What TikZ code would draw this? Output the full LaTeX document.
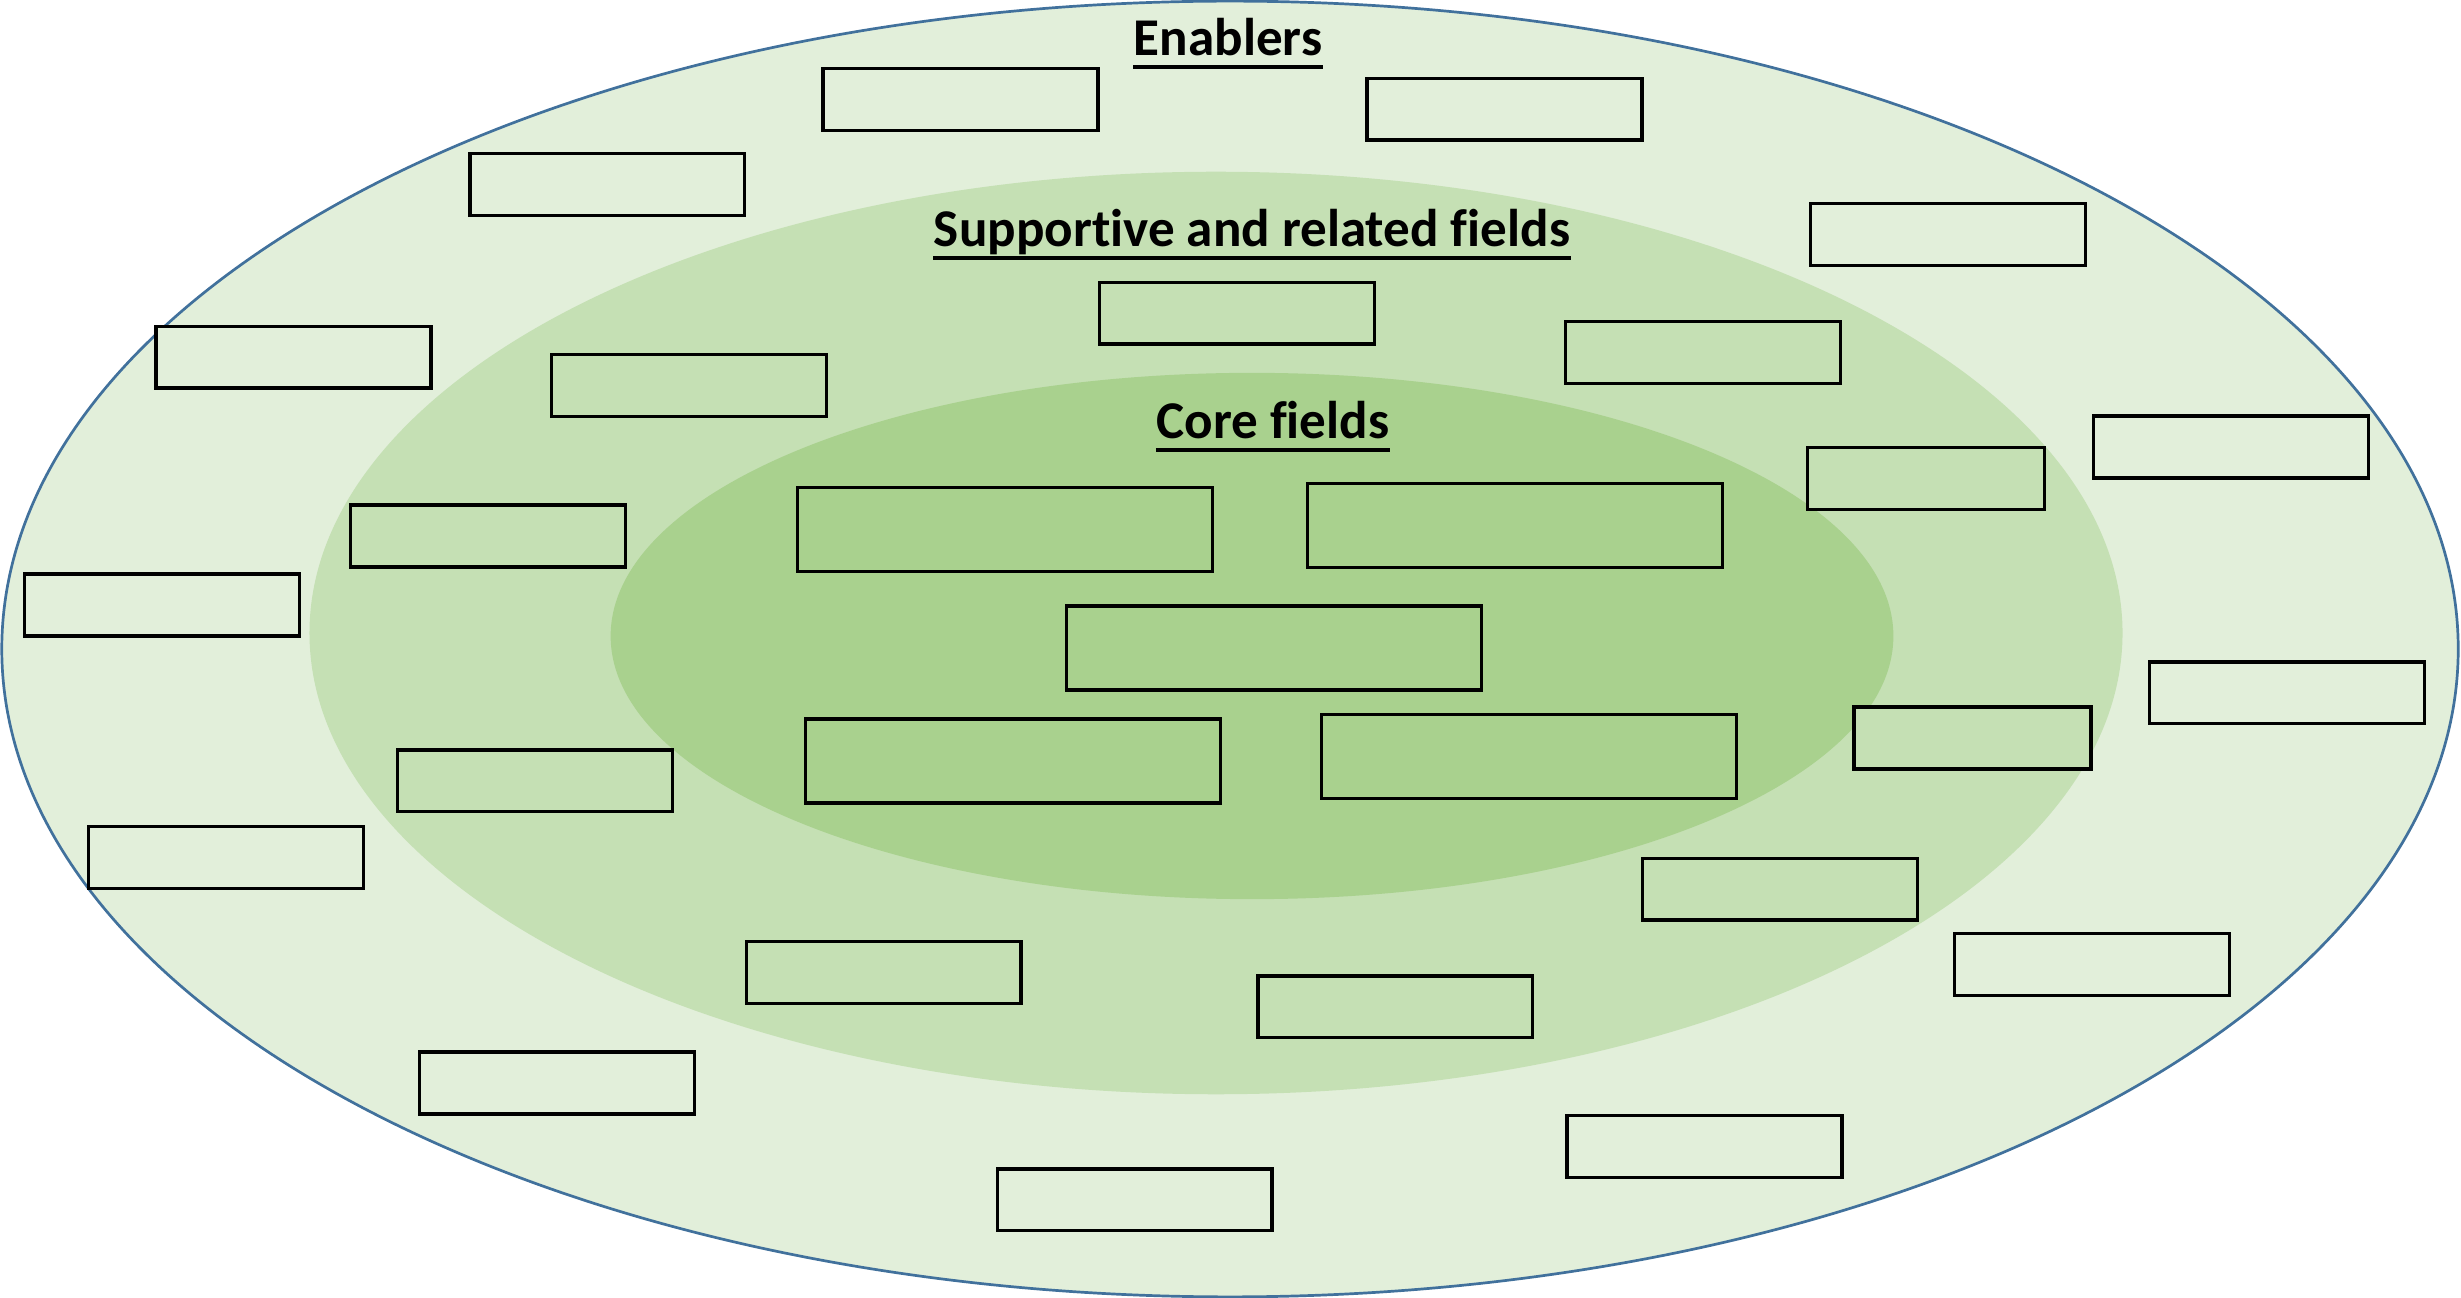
\documentclass[tikz,border=0pt]{standalone}
\usepackage{fontspec}
\setmainfont{Carlito}[Ligatures={NoCommon,NoContextual}]
\definecolor{ringA}{HTML}{E2EFDA}
\definecolor{ringB}{HTML}{C5E0B4}
\definecolor{ringC}{HTML}{A9D18E}
\definecolor{rimblue}{HTML}{41719C}
\begin{document}
\begin{tikzpicture}[x=0.01cm,y=-0.01cm,
  fieldbox/.style={draw=black, line width=0.033cm, inner sep=0pt, minimum width=2.747cm, minimum height=0.617cm},
  outerbox/.style={fieldbox, fill=ringA},
  midbox/.style={fieldbox, fill=ringB},
  narrowbox/.style={midbox, minimum width=2.367cm},
  corebox/.style={fieldbox, fill=ringC, minimum width=4.147cm, minimum height=0.837cm},
  ringtitle/.style={inner sep=0pt, anchor=base, font=\fontsize{15.1pt}{18pt}\selectfont\bfseries},
  uline/.style={line width=0.04cm, black}]
\useasboundingbox (0,0) rectangle (2461,1298);
% rings
\fill[ringA, draw=rimblue, line width=0.027cm] (1230,649) ellipse [x radius=12.275cm, y radius=6.475cm];
\fill[ringB] (1216,633) ellipse [x radius=9.06cm, y radius=4.61cm];
\fill[ringC] (1252,636) ellipse [x radius=6.41cm, y radius=2.63cm];
% titles
\node[ringtitle] (t1) at (1228,56) {Enablers};
\node[ringtitle] (t2) at (1252,247) {Suppor\kern0pt tive and related f\kern0pt ields};
\node[ringtitle] (t3) at (1273,439) {Core f\kern0pt ields};
\foreach \t in {t1,t2,t3}
  \draw[uline] ([yshift=-0.11cm]\t.base west) -- ([yshift=-0.11cm]\t.base east);
% outer ring boxes
\node[outerbox] (b1) at (960.5,99.7) {};
\node[outerbox] (b2) at (1504.4,109.1) {};
\node[outerbox] (b3) at (607.4,184.4) {};
\node[outerbox] (b4) at (1947.8,234.6) {};
\node[outerbox] (b7) at (293.5,357.1) {};
\node[outerbox] (b10) at (2231,447) {};
\node[outerbox] (b12) at (162,605) {};
\node[outerbox] (b19) at (2286.8,692.9) {};
\node[outerbox] (b21) at (226,857.5) {};
\node[outerbox] (b23) at (2092.1,964.5) {};
\node[outerbox] (b26) at (557.2,1083) {};
\node[outerbox] (b27) at (1704.5,1146.5) {};
\node[outerbox] (b28) at (1134.7,1199.9) {};
% middle ring boxes
\node[midbox] (b5) at (1236.8,313.1) {};
\node[midbox] (b6) at (1702.9,352.4) {};
\node[midbox] (b8) at (689,385.3) {};
\node[narrowbox] (b9) at (1926,478.5) {};
\node[midbox] (b11) at (488.1,536) {};
\node[narrowbox] (b18) at (1972.5,738) {};
\node[midbox] (b20) at (535.2,780.8) {};
\node[midbox] (b22) at (1779.8,889.1) {};
\node[midbox] (b24) at (883.6,972.3) {};
\node[midbox] (b25) at (1395.3,1006.8) {};
% core boxes
\node[corebox] (c1) at (1005,529.5) {};
\node[corebox] (c2) at (1515,525.5) {};
\node[corebox] (c3) at (1274,648) {};
\node[corebox] (c4) at (1013,761) {};
\node[corebox] (c5) at (1529,756.5) {};
\end{tikzpicture}
\end{document}
